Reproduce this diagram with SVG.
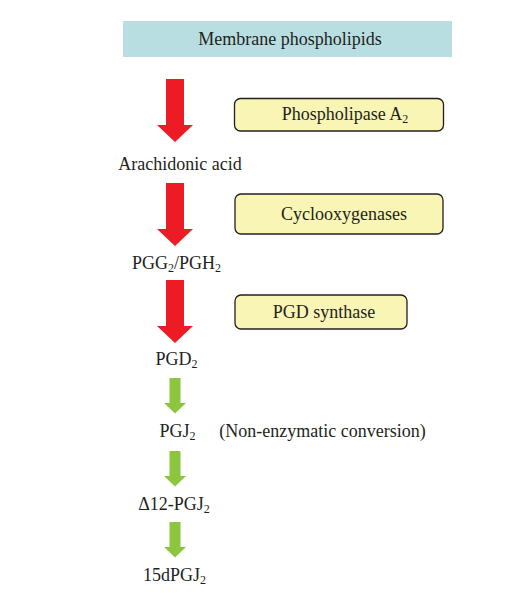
<svg xmlns="http://www.w3.org/2000/svg" width="506" height="593" viewBox="0 0 506 593">
<defs>
<style>
text { font-family: "Liberation Serif", "Times New Roman", serif; font-size: 18px; fill: #231f20; text-anchor: middle; }
.sub { font-size: 12px; }
.enz { fill: #f9f5b4; stroke: #231f20; stroke-width: 1.3; }
.red { fill: #ed1c24; }
.green { fill: #8cc63f; }
</style>
</defs>
<rect width="506" height="593" fill="#ffffff"/>
<g id="membrane">
<rect x="123" y="21" width="329" height="36" fill="#b8dee1"/>
<text x="290" y="45">Membrane phospholipids</text>
</g>
<g id="pla2">
<rect class="enz" x="234.5" y="98.5" width="209" height="32.5" rx="6"/>
<text x="345" y="120">Phospholipase A<tspan class="sub" dy="3">2</tspan></text>
</g>
<g id="arachidonic">
<text x="180" y="170">Arachidonic acid</text>
</g>
<g id="cox">
<rect class="enz" x="235" y="194" width="208" height="40" rx="6"/>
<text x="344" y="220">Cyclooxygenases</text>
</g>
<g id="pgg2">
<text x="176.5" y="269">PGG<tspan class="sub" dy="3">2</tspan><tspan dy="-3">/PGH</tspan><tspan class="sub" dy="3">2</tspan></text>
</g>
<g id="pgds">
<rect class="enz" x="235" y="295" width="172" height="34" rx="6"/>
<text x="324" y="318">PGD synthase</text>
</g>
<g id="pgd2">
<text x="176.5" y="365">PGD<tspan class="sub" dy="3">2</tspan></text>
</g>
<g id="pgj2">
<text x="177.5" y="437">PGJ<tspan class="sub" dy="3">2</tspan></text>
<text x="322.5" y="437">(Non-enzymatic conversion)</text>
</g>
<g id="d12pgj2">
<text x="174" y="510">Δ12-PGJ<tspan class="sub" dy="3">2</tspan></text>
</g>
<g id="15dpgj2">
<text x="174.5" y="581">15dPGJ<tspan class="sub" dy="3">2</tspan></text>
</g>
<g id="connectors">
<path class="red" d="M166 79 H184 V125 H193 L175 142 L157 125 H166 Z"/>
<path class="red" d="M166 183 H184 V229 H193 L175 246 L157 229 H166 Z"/>
<path class="red" d="M166 280 H184 V326 H193 L175 343 L157 326 H166 Z"/>
<path class="green" d="M169.5 378 H180.5 V403 H186 L175 413.5 L164 403 H169.5 Z"/>
<path class="green" d="M169.5 451 H180.5 V476 H186 L175 486.5 L164 476 H169.5 Z"/>
<path class="green" d="M169.5 522 H180.5 V547 H186 L175 557.5 L164 547 H169.5 Z"/>
</g>
</svg>
